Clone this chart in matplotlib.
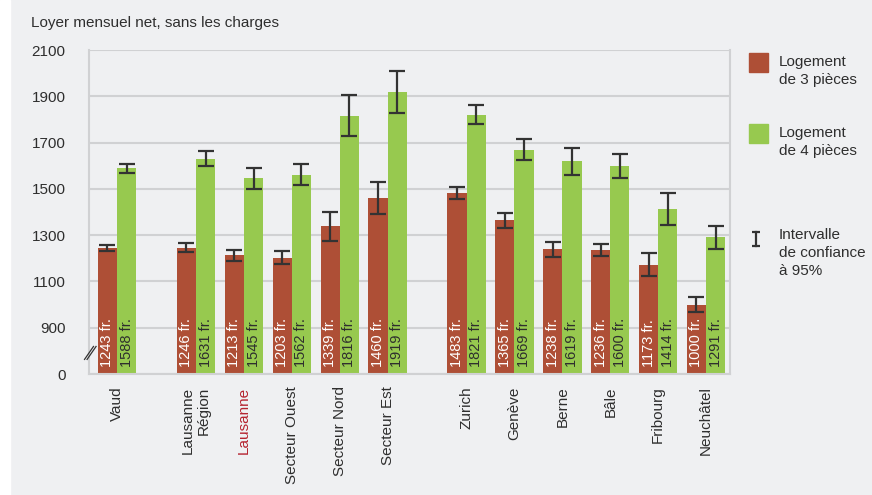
import numpy as np
import matplotlib
matplotlib.use("Agg")
import matplotlib.pyplot as plt
from matplotlib.patches import Rectangle
from matplotlib.lines import Line2D

plt.rcParams['font.family'] = ['Liberation Sans', 'DejaVu Sans']

# data
regions = ["Vaud", "Lausanne\nRégion", "Lausanne", "Secteur Ouest", "Secteur Nord",
           "Secteur Est", "Zurich", "Genève", "Berne", "Bâle", "Fribourg", "Neuchâtel"]
groups = [0, 1, 1, 1, 1, 1, 2, 2, 2, 2, 2, 2]
rent_3 = [1243, 1246, 1213, 1203, 1339, 1460, 1483, 1365, 1238, 1236, 1173, 1000]
rent_4 = [1588, 1631, 1545, 1562, 1816, 1919, 1821, 1669, 1619, 1600, 1414, 1291]
ci_3 = [13, 20, 24, 27, 63, 70, 25, 32, 32, 27, 49, 33]
ci_4 = [21, 33, 46, 46, 88, 92, 42, 46, 59, 52, 70, 50]
yticks = [700, 900, 1100, 1300, 1500, 1700, 1900, 2100]
ytick_labels = ["0", "900", "1100", "1300", "1500", "1700", "1900", "2100"]

red = '#AE4F36'
green = '#97C94F'
bg = '#EFF0F2'
grid_c = '#D0D1D3'
txt = '#2E2E2E'
base = 700  # axis is broken: "0" sits at 700

fig = plt.figure(figsize=(8.72, 4.95), dpi=100, facecolor=bg)
fig.patches.append(Rectangle((0, 0), 10 / 872, 1, transform=fig.transFigure,
                             color='white', zorder=-1))
ax = fig.add_axes([89 / 872, 121 / 495, 641 / 872, 324 / 495])
ax.set_facecolor(bg)

x = np.arange(len(regions)) + 0.65 * np.array(groups)
w = 0.4
r3 = np.array(rent_3)
r4 = np.array(rent_4)

ax.bar(x - w / 2, r3 - base, w, bottom=base, color=red, zorder=2)
ax.bar(x + w / 2, r4 - base, w, bottom=base, color=green, zorder=2)
ax.errorbar(x - w / 2, r3, yerr=ci_3, fmt='none', ecolor='#333333',
            elinewidth=1.6, capsize=5.5, capthick=1.6, zorder=3)
ax.errorbar(x + w / 2, r4, yerr=ci_4, fmt='none', ecolor='#333333',
            elinewidth=1.6, capsize=5.5, capthick=1.6, zorder=3)

for xi, v in zip(x, rent_3):
    ax.annotate(f"{v} fr.", (xi - w / 2, base), xytext=(0, 5), textcoords='offset points',
                rotation=90, ha='center', va='bottom', color='white', fontsize=10.5, zorder=4)
for xi, v in zip(x, rent_4):
    ax.annotate(f"{v} fr.", (xi + w / 2, base), xytext=(0, 5), textcoords='offset points',
                rotation=90, ha='center', va='bottom', color=txt, fontsize=10.5, zorder=4)

ax.set_xlim(-0.585, 12.8)
ax.set_ylim(700, 2100)
ax.set_yticks(yticks)
ax.set_yticklabels(ytick_labels)
ax.set_xticks(x)
ax.set_xticklabels(regions, rotation=90, va='top', ha='center')
ax.tick_params(axis='both', length=0, labelsize=11, labelcolor=txt)
ax.tick_params(axis='y', pad=17)
ax.tick_params(axis='x', pad=9)
for lab in ax.get_xticklabels():
    lab.set_multialignment('right')
    if lab.get_text() == "Lausanne":
        lab.set_color('#B5232F')

ax.grid(axis='y', color=grid_c, linewidth=1.5, zorder=0)
for s in ax.spines.values():
    s.set_color(grid_c)
    s.set_linewidth(1.5)
ax.spines['top'].set_visible(False)

# axis break marks
for dx in (0, 0.004):
    ax.plot([-0.007 + dx, 0.007 + dx], [0.045, 0.085], transform=ax.transAxes,
            color='#333333', linewidth=0.9, clip_on=False, zorder=5)

fig.text(31 / 872, 1 - 23 / 495, "Loyer mensuel net, sans les charges",
         fontsize=11, color=txt, va='center', ha='left')

# legend drawn by hand
fig.patches.append(Rectangle((749 / 872, 1 - 72 / 495), 19 / 872, 19 / 495,
                             transform=fig.transFigure, color=red))
fig.patches.append(Rectangle((749 / 872, 1 - 143 / 495), 19 / 872, 19 / 495,
                             transform=fig.transFigure, color=green))
fig.add_artist(Line2D([756 / 872, 756 / 872], [1 - 232 / 495, 1 - 246 / 495],
                      transform=fig.transFigure, color='#333333', linewidth=1.6,
                      marker='_', markersize=6, markeredgewidth=1.6))
fig.text(779 / 872, 1 - 71 / 495, "Logement\nde 3 pièces", fontsize=11, color=txt,
         va='center', ha='left', linespacing=1.4)
fig.text(779 / 872, 1 - 142 / 495, "Logement\nde 4 pièces", fontsize=11, color=txt,
         va='center', ha='left', linespacing=1.4)
fig.text(779 / 872, 1 - 253 / 495, "Intervalle\nde confiance\nà 95%", fontsize=11,
         color=txt, va='center', ha='left', linespacing=1.4)

fig.savefig("out.png", dpi=100, facecolor=bg)
